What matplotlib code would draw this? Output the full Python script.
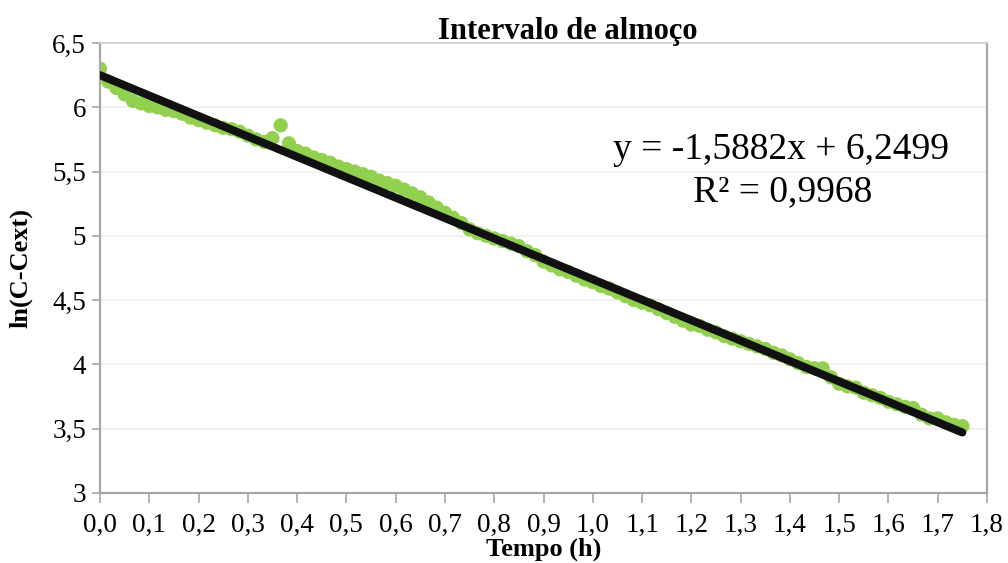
import matplotlib
matplotlib.use("Agg")
import matplotlib.pyplot as plt
import numpy as np
from matplotlib.ticker import FixedLocator, FuncFormatter

plt.rcParams['font.family'] = ['Liberation Serif', 'DejaVu Serif']

# Time in hours (one reading per minute) and ln(C - Cext)
tempo = [i / 60 for i in range(106)]
ln_c = [
    6.30, 6.20, 6.15, 6.10, 6.05, 6.03, 6.01, 6.00, 5.98, 5.97,
    5.95, 5.92, 5.90, 5.88, 5.86, 5.84, 5.83, 5.81, 5.78, 5.75,
    5.73, 5.76, 5.86, 5.72, 5.66, 5.64, 5.61, 5.59, 5.57, 5.54,
    5.52, 5.50, 5.48, 5.46, 5.43, 5.41, 5.39, 5.36, 5.33, 5.30,
    5.26, 5.22, 5.18, 5.14, 5.10, 5.05, 5.02, 5.00, 4.98, 4.96,
    4.94, 4.92, 4.88, 4.85, 4.80, 4.77, 4.74, 4.72, 4.69, 4.66,
    4.64, 4.61, 4.59, 4.56, 4.53, 4.50, 4.48, 4.46, 4.43, 4.40,
    4.37, 4.34, 4.31, 4.30, 4.27, 4.25, 4.22, 4.20, 4.18, 4.16,
    4.14, 4.12, 4.09, 4.07, 4.04, 4.01, 3.98, 3.97, 3.97, 3.90,
    3.85, 3.83, 3.82, 3.78, 3.76, 3.74, 3.71, 3.69, 3.67, 3.66,
    3.61, 3.58, 3.58, 3.55, 3.53, 3.52,
]

# Linear trendline coefficients
slope = -1.5882
intercept = 6.2499
r2 = 0.9968

x_ticks = [round(0.1 * i, 1) for i in range(19)]
y_ticks = [3, 3.5, 4, 4.5, 5, 5.5, 6, 6.5]

fig = plt.figure(figsize=(10.08, 5.63), dpi=100)
ax = fig.add_axes([100 / 1008, 1 - 493 / 563, 887 / 1008, 450 / 563])

ax.scatter(tempo, ln_c, s=105, color='#92d050', edgecolors='none', zorder=2)

x_fit = np.array([tempo[0], tempo[-1]])
ax.plot(x_fit, slope * x_fit + intercept, color='#111111', lw=5.8,
        solid_capstyle='round', zorder=3)

ax.set_xlim(0, 1.8)
ax.set_ylim(3, 6.5)
ax.xaxis.set_major_locator(FixedLocator(x_ticks))
ax.yaxis.set_major_locator(FixedLocator(y_ticks))
ax.xaxis.set_major_formatter(FuncFormatter(lambda v, p: f"{v:.1f}".replace('.', ',')))
ax.yaxis.set_major_formatter(FuncFormatter(
    lambda v, p: (f"{v:g}").replace('.', ',')))

ax.grid(axis='y', color='#eeeeee', lw=1.2, zorder=0)
ax.set_axisbelow(True)

for side in ['left', 'bottom', 'right']:
    ax.spines[side].set_color('#a6a6a6')
    ax.spines[side].set_linewidth(1.6)
ax.spines['top'].set_color('#d0d0d0')
ax.spines['top'].set_linewidth(1.2)

ax.tick_params(axis='x', direction='out', length=7, width=1.2, color='#a6a6a6',
               labelsize=19.5, pad=7)
ax.tick_params(axis='y', direction='out', length=6, width=1.2, color='#a6a6a6',
               labelsize=19.5, pad=4)

ax.text(0.5, -0.125, 'Tempo (h)', transform=ax.transAxes, ha='center', va='center',
        fontsize=19, fontweight='bold')
ax.set_ylabel('ln(C-Cext)', fontsize=19, fontweight='bold', labelpad=14)

fig.text(568 / 1008, 1 - 31 / 563, 'Intervalo de almoço', ha='center', va='center',
         fontsize=22, fontweight='bold')

eq = f"y = {slope:.4f}x + {intercept:.4f}".replace('.', ',')
r2_txt = f"R² = {r2:.4f}".replace('.', ',')
ax.text(1.381, 5.67, eq, ha='center', va='center', fontsize=27)
ax.text(1.385, 5.34, r2_txt, ha='center', va='center', fontsize=27)

fig.savefig('out.png', dpi=100)
